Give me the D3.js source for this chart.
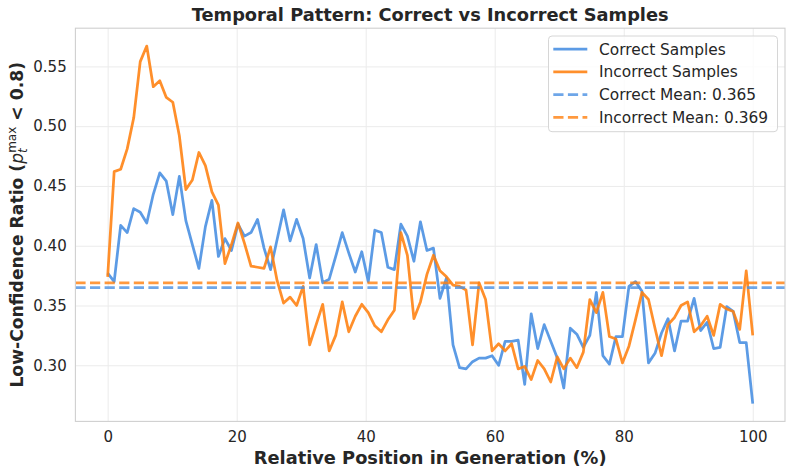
<!DOCTYPE html>
<html>
<head>
<meta charset="utf-8">
<script src="https://cdn.jsdelivr.net/npm/d3@7"></script>
<style>
    body { margin: 0; background: #fff; }
    svg { display: block; font-family: "DejaVu Sans", sans-serif; }
</style>
</head>
<body>
<div id="chart"></div>
<script>
// values per position (100 samples spread over 0..100 %)
var correctValues = [
    0.377, 0.370, 0.417, 0.411, 0.431, 0.428, 0.419, 0.443, 0.461, 0.454,
    0.426, 0.458, 0.421, 0.401, 0.381, 0.416, 0.438, 0.391, 0.406, 0.396,
    0.418, 0.408, 0.411, 0.422, 0.398, 0.380, 0.405, 0.430, 0.404, 0.422,
    0.406, 0.373, 0.401, 0.369, 0.372, 0.391, 0.411, 0.394, 0.378, 0.395,
    0.370, 0.413, 0.411, 0.382, 0.380, 0.418, 0.408, 0.387, 0.420, 0.396,
    0.398, 0.356, 0.373, 0.317, 0.298, 0.297, 0.303, 0.306, 0.306, 0.308,
    0.300, 0.320, 0.320, 0.321, 0.284, 0.343, 0.314, 0.334, 0.320, 0.306,
    0.281, 0.331, 0.326, 0.315, 0.325, 0.361, 0.308, 0.301, 0.324, 0.324,
    0.366, 0.370, 0.362, 0.302, 0.310, 0.327, 0.339, 0.312, 0.337, 0.337,
    0.356, 0.329, 0.336, 0.314, 0.315, 0.349, 0.345, 0.319, 0.319, 0.268
];
var incorrectValues = [
    0.374, 0.462, 0.464, 0.481, 0.507, 0.554, 0.567, 0.533, 0.538, 0.524,
    0.520, 0.492, 0.447, 0.455, 0.478, 0.467, 0.445, 0.434, 0.385, 0.401,
    0.419, 0.402, 0.383, 0.382, 0.381, 0.399, 0.371, 0.352, 0.357, 0.350,
    0.366, 0.317, 0.334, 0.351, 0.312, 0.325, 0.353, 0.328, 0.341, 0.351,
    0.344, 0.333, 0.328, 0.338, 0.346, 0.411, 0.392, 0.339, 0.353, 0.376,
    0.392, 0.379, 0.374, 0.367, 0.366, 0.363, 0.317, 0.369, 0.355, 0.312,
    0.318, 0.312, 0.318, 0.297, 0.299, 0.288, 0.304, 0.297, 0.286, 0.307,
    0.297, 0.306, 0.298, 0.311, 0.355, 0.344, 0.361, 0.324, 0.322, 0.302,
    0.316, 0.338, 0.361, 0.355, 0.331, 0.308, 0.334, 0.340, 0.350, 0.353,
    0.328, 0.333, 0.341, 0.325, 0.351, 0.347, 0.345, 0.330, 0.379, 0.325
];
var correctMean = 0.365,
    incorrectMean = 0.369;

var seriesNames = ['Correct Samples', 'Incorrect Samples'];
var meanNames = ['Correct Mean: 0.365', 'Incorrect Mean: 0.369'];
var xTicks = [0, 20, 40, 60, 80, 100];
var yTicks = [0.30, 0.35, 0.40, 0.45, 0.50, 0.55];

var BLUE = '#4a90e2',
    ORANGE = '#ff7f0e';

var width = 793,
    height = 475;
var plot = { left: 75.4, right: 785, top: 28.2, bottom: 421.4 };

// relative position of each sample, 0..100
var positions = correctValues.map((d, i) => i * 100 / (correctValues.length - 1));

var svg = d3.select('#chart').append('svg')
    .attr('width', width)
    .attr('height', height);

svg.append('rect')
    .attr('width', width).attr('height', height)
    .attr('fill', '#fff');

var x = d3.scaleLinear().domain([-5, 105]).range([plot.left, plot.right]);

var all = correctValues.concat(incorrectValues);
var lo = d3.min(all), hi = d3.max(all), pad = (hi - lo) * 0.05;
var y = d3.scaleLinear().domain([lo - pad, hi + pad]).range([plot.bottom, plot.top]);

// grid
svg.append('g')
    .attr('transform', 'translate(0,' + plot.bottom + ')')
    .call(d3.axisBottom(x).tickValues(xTicks).tickSize(-(plot.bottom - plot.top)).tickFormat(''))
    .call(g => g.select('.domain').remove())
    .selectAll('line').attr('stroke', '#ebebeb').attr('stroke-width', 1);

svg.append('g')
    .attr('transform', 'translate(' + plot.left + ',0)')
    .call(d3.axisLeft(y).tickValues(yTicks).tickSize(-(plot.right - plot.left)).tickFormat(''))
    .call(g => g.select('.domain').remove())
    .selectAll('line').attr('stroke', '#ebebeb').attr('stroke-width', 1);

// lines
var line = d3.line()
    .x((d, i) => x(positions[i]))
    .y(d => y(d));

var series = [
    { name: seriesNames[0], values: correctValues, color: BLUE, opacity: 0.9 },
    { name: seriesNames[1], values: incorrectValues, color: ORANGE, opacity: 0.88 }
];
var means = [
    { name: meanNames[0], value: correctMean, color: BLUE, opacity: 0.8 },
    { name: meanNames[1], value: incorrectMean, color: ORANGE, opacity: 0.8 }
];

series.forEach(s => {
    svg.append('path')
        .datum(s.values)
        .attr('d', line)
        .attr('fill', 'none')
        .attr('stroke', s.color)
        .attr('stroke-opacity', s.opacity)
        .attr('stroke-width', 2.75)
        .attr('stroke-linejoin', 'round');
});

means.forEach(m => {
    svg.append('line')
        .attr('x1', plot.left).attr('x2', plot.right)
        .attr('y1', y(m.value)).attr('y2', y(m.value))
        .attr('stroke', m.color)
        .attr('stroke-opacity', m.opacity)
        .attr('stroke-width', 2.75)
        .attr('stroke-dasharray', '10.2,4.4');
});

// frame
svg.append('rect')
    .attr('x', plot.left).attr('y', plot.top)
    .attr('width', plot.right - plot.left)
    .attr('height', plot.bottom - plot.top)
    .attr('fill', 'none')
    .attr('stroke', '#cfcfcf')
    .attr('stroke-width', 1.1);

// tick labels
svg.append('g')
    .attr('transform', 'translate(0,' + plot.bottom + ')')
    .call(d3.axisBottom(x).tickValues(xTicks).tickSize(0).tickPadding(10).tickFormat(d3.format('d')))
    .call(g => g.select('.domain').remove())
    .selectAll('text')
    .attr('font-family', '"DejaVu Sans", sans-serif')
    .attr('font-size', 15)
    .attr('fill', '#262626');

svg.append('g')
    .attr('transform', 'translate(' + plot.left + ',0)')
    .call(d3.axisLeft(y).tickValues(yTicks).tickSize(0).tickPadding(8.7).tickFormat(d3.format('.2f')))
    .call(g => g.select('.domain').remove())
    .selectAll('text')
    .attr('font-family', '"DejaVu Sans", sans-serif')
    .attr('font-size', 15)
    .attr('fill', '#262626');

// title + axis labels
svg.append('text')
    .attr('x', (plot.left + plot.right) / 2)
    .attr('y', 20.5)
    .attr('text-anchor', 'middle')
    .attr('font-weight', 'bold')
    .attr('font-size', 17.8)
    .attr('fill', '#262626')
    .text('Temporal Pattern: Correct vs Incorrect Samples');

svg.append('text')
    .attr('x', (plot.left + plot.right) / 2)
    .attr('y', 463.5)
    .attr('text-anchor', 'middle')
    .attr('font-weight', 'bold')
    .attr('font-size', 17.8)
    .attr('fill', '#262626')
    .text('Relative Position in Generation (%)');

var ylab = svg.append('text')
    .attr('transform', 'translate(22.5,' + (plot.top + plot.bottom) / 2 + ') rotate(-90)')
    .attr('text-anchor', 'middle')
    .attr('font-weight', 'bold')
    .attr('font-size', 17.2)
    .attr('fill', '#262626');
ylab.append('tspan').text('Low-Confidence Ratio (');
ylab.append('tspan').attr('font-style', 'italic').attr('font-weight', 'normal').text('p');
ylab.append('tspan').attr('font-style', 'italic').attr('font-weight', 'normal')
    .attr('font-size', 12).attr('dy', 4).text('t');
ylab.append('tspan').attr('font-weight', 'normal')
    .attr('font-size', 12).attr('dx', -4.7).attr('dy', -11).text('max');
ylab.append('tspan').attr('dy', 7).text(' < 0.8)');

// legend
var legendItems = series.map(s => ({ name: s.name, color: s.color, opacity: s.opacity, dash: null }))
    .concat(means.map(m => ({ name: m.name, color: m.color, opacity: m.opacity, dash: '10.2,4.4' })));

var legend = svg.append('g');
legend.append('rect')
    .attr('x', 548.5).attr('y', 36)
    .attr('width', 229).attr('height', 95.7)
    .attr('rx', 3.5)
    .attr('fill', '#fff').attr('fill-opacity', 0.8)
    .attr('stroke', '#d6d6d6');

legendItems.forEach((d, i) => {
    var cy = 49 + i * 22.8;
    legend.append('line')
        .attr('x1', 553.3).attr('x2', 587.3)
        .attr('y1', cy).attr('y2', cy)
        .attr('stroke', d.color)
        .attr('stroke-opacity', d.opacity)
        .attr('stroke-width', 2.75)
        .attr('stroke-dasharray', d.dash);
    legend.append('text')
        .attr('x', 599).attr('y', cy)
        .attr('dy', '0.36em')
        .attr('font-size', 15.4)
        .attr('fill', '#262626')
        .text(d.name);
});
</script>
</body>
</html>
